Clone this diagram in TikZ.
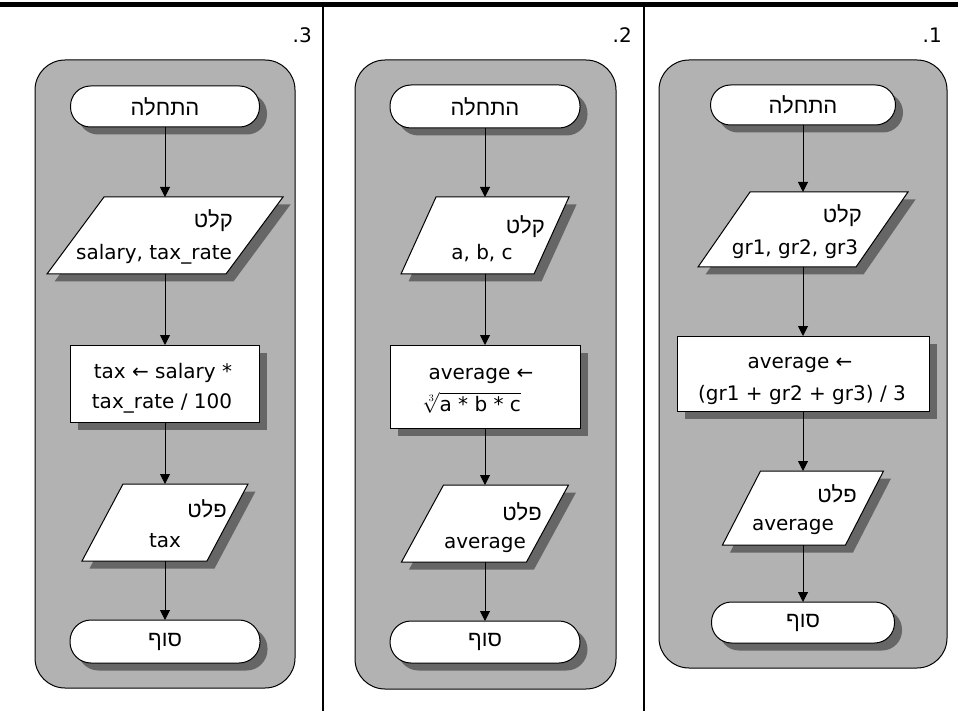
\documentclass[tikz,border=0pt]{standalone}
\usepackage{fontspec}
\setmainfont{DejaVu Sans}
\newfontfamily\hebfam[Script=Hebrew]{Liberation Sans}
\TeXXeTstate=1
\usetikzlibrary{arrows.meta,calc}
\pgfdeclarelayer{boxes}
\pgfsetlayers{boxes,main}

\definecolor{panelgray}{HTML}{B2B2B2}
\definecolor{shadowgray}{HTML}{666666}

\newcommand\latinsize{\fontsize{20}{30}\selectfont}
\newcommand\hebsize{\hebfam\fontsize{22}{26}\selectfont}
\newcommand\rtl[1]{\beginR #1\endR}

% white box with a dark drop shadow, corners rounded by #2
\newcommand\plainbox[2]{%
  \begin{pgfonlayer}{boxes}
    \fill[shadowgray, rounded corners=#2]
      ($(#1.south west)+(7.5,7.5)$) rectangle ($(#1.north east)+(7.5,7.5)$);
    \draw[fill=white, line width=1pt, rounded corners=#2]
      (#1.south west) rectangle (#1.north east);
  \end{pgfonlayer}}

% input/output parallelogram, top edge shifted right by #2
\newcommand\iobox[2]{%
  \begin{pgfonlayer}{boxes}
    \fill[shadowgray]
      ($(#1.south west)+(7.5,7.5)$) -- ($(#1.north west)+(#2+7.5,7.5)$) --
      ($(#1.north east)+(7.5,7.5)$) -- ($(#1.south east)+(-#2+7.5,7.5)$) -- cycle;
    \draw[fill=white, line width=1pt]
      (#1.south west) -- ($(#1.north west)+(#2,0)$) --
      (#1.north east) -- ($(#1.south east)+(-#2,0)$) -- cycle;
  \end{pgfonlayer}}

\newcommand\panel[4]{%
  \begin{pgfonlayer}{boxes}
    \draw[fill=panelgray, line width=1pt, rounded corners=30pt] (#1,#2) rectangle (#3,#4);
  \end{pgfonlayer}}

\tikzset{
  shapebox/.style={inner sep=0pt, outer sep=0pt, draw=none},
  terminal/.style={shapebox, font=\hebsize},
  txt/.style={font=\latinsize, inner sep=0pt, text height=15pt, text depth=5pt},
  hebtxt/.style={font=\hebsize, inner sep=0pt, text height=16pt, text depth=5pt},
  flow/.style={line width=1pt, -{Triangle[width=10pt,length=10pt]}},
  rule/.style={line width=2.5pt},
}

\begin{document}
\begin{tikzpicture}[x=1pt,y=-1pt]
\useasboundingbox (0,0) rectangle (958,711);

% page rules
\draw[line width=4.5pt] (0,4.5) -- (958,4.5);
\draw[rule] (323,5) -- (323,711);
\draw[rule] (644,5) -- (644,711);

% ---------- exercise 3 ----------
\panel{35}{60}{295}{688}
\node[txt, anchor=east] (n3) at (312,38) {.3};
\node[terminal, minimum width=189pt, minimum height=41pt] (s3) at (165,106.5) {\rtl{התחלה}};
\plainbox{s3}{20pt}
\node[shapebox, minimum width=236pt, minimum height=77pt] (in3) at (165,235.5) {};
\iobox{in3}{57}
\node[hebtxt, anchor=east] (in3h) at (233,222) {\rtl{קלט}};
\node[txt] (in3t) at (154,255) {salary, tax\_rate};
\node[shapebox, minimum width=189pt, minimum height=77pt] (p3) at (165,383.5) {};
\plainbox{p3}{0pt}
\node[txt] (p3a) at (163,373) {tax ← salary *};
\node[txt] (p3b) at (162,403) {tax\_rate / 100};
\node[shapebox, minimum width=166pt, minimum height=77pt] (out3) at (165,522.5) {};
\iobox{out3}{41}
\node[hebtxt, anchor=east] (out3h) at (227,512) {\rtl{פלט}};
\node[txt] (out3t) at (165,542) {tax};
\node[terminal, minimum width=190pt, minimum height=43pt] (e3) at (165,641.5) {\rtl{סוף}};
\plainbox{e3}{21pt}
\draw[flow] (s3) -- (in3);
\draw[flow] (in3) -- (p3);
\draw[flow] (p3) -- (out3);
\draw[flow] (out3) -- (e3);

% ---------- exercise 2 ----------
\panel{355}{60}{616}{689}
\node[txt, anchor=east] (n2) at (632,38) {.2};
\node[terminal, minimum width=190pt, minimum height=43pt] (s2) at (485,106.5) {\rtl{התחלה}};
\plainbox{s2}{21pt}
\node[shapebox, minimum width=168pt, minimum height=77pt] (in2) at (485,235.5) {};
\iobox{in2}{35}
\node[hebtxt, anchor=east] (in2h) at (545,228) {\rtl{קלט}};
\node[txt] (in2t) at (482,255) {a, b, c};
\node[shapebox, minimum width=190pt, minimum height=83pt] (p2) at (485,386.5) {};
\plainbox{p2}{0pt}
\node[font=\latinsize, inner sep=0pt, text height=15pt, text depth=3pt] (p2a) at (481,373) {average ←};
\node[font=\latinsize, inner sep=0pt, text height=16pt, text depth=5pt] (p2b) at (472,406) {$\sqrt[3]{\hbox{a * b * c}}$};
\node[shapebox, minimum width=167pt, minimum height=77pt] (out2) at (485,523.5) {};
\iobox{out2}{42}
\node[hebtxt, anchor=east] (out2h) at (542,515) {\rtl{פלט}};
\node[txt] (out2t) at (485,543) {average};
\node[terminal, minimum width=190pt, minimum height=42pt] (e2) at (485,642) {\rtl{סוף}};
\plainbox{e2}{21pt}
\draw[flow] (s2) -- (in2);
\draw[flow] (in2) -- (p2);
\draw[flow] (p2) -- (out2);
\draw[flow] (out2) -- (e2);

% ---------- exercise 1 ----------
\panel{659}{60}{947}{668}
\node[txt, anchor=east] (n1) at (942,38) {.1};
\node[terminal, minimum width=185pt, minimum height=40pt] (s1) at (803,105) {\rtl{התחלה}};
\plainbox{s1}{20pt}
\node[shapebox, minimum width=210pt, minimum height=75pt] (in1) at (803,229.5) {};
\iobox{in1}{52}
\node[hebtxt, anchor=east] (in1h) at (862,217) {\rtl{קלט}};
\node[txt] (in1t) at (795,250) {gr1, gr2, gr3};
\node[shapebox, minimum width=252pt, minimum height=75pt] (p1) at (803,373.5) {};
\plainbox{p1}{0pt}
\node[txt] (p1a) at (800,363) {average ←};
\node[txt] (p1b) at (802,395) {(gr1 + gr2 + gr3) / 3};
\node[shapebox, minimum width=161pt, minimum height=74pt] (out1) at (803,508) {};
\iobox{out1}{38}
\node[hebtxt, anchor=east] (out1h) at (857,497) {\rtl{פלט}};
\node[txt] (out1t) at (793,525) {average};
\node[terminal, minimum width=183pt, minimum height=41pt] (e1) at (803,622.5) {\rtl{סוף}};
\plainbox{e1}{20pt}
\draw[flow] (s1) -- (in1);
\draw[flow] (in1) -- (p1);
\draw[flow] (p1) -- (out1);
\draw[flow] (out1) -- (e1);
\end{tikzpicture}
\end{document}
